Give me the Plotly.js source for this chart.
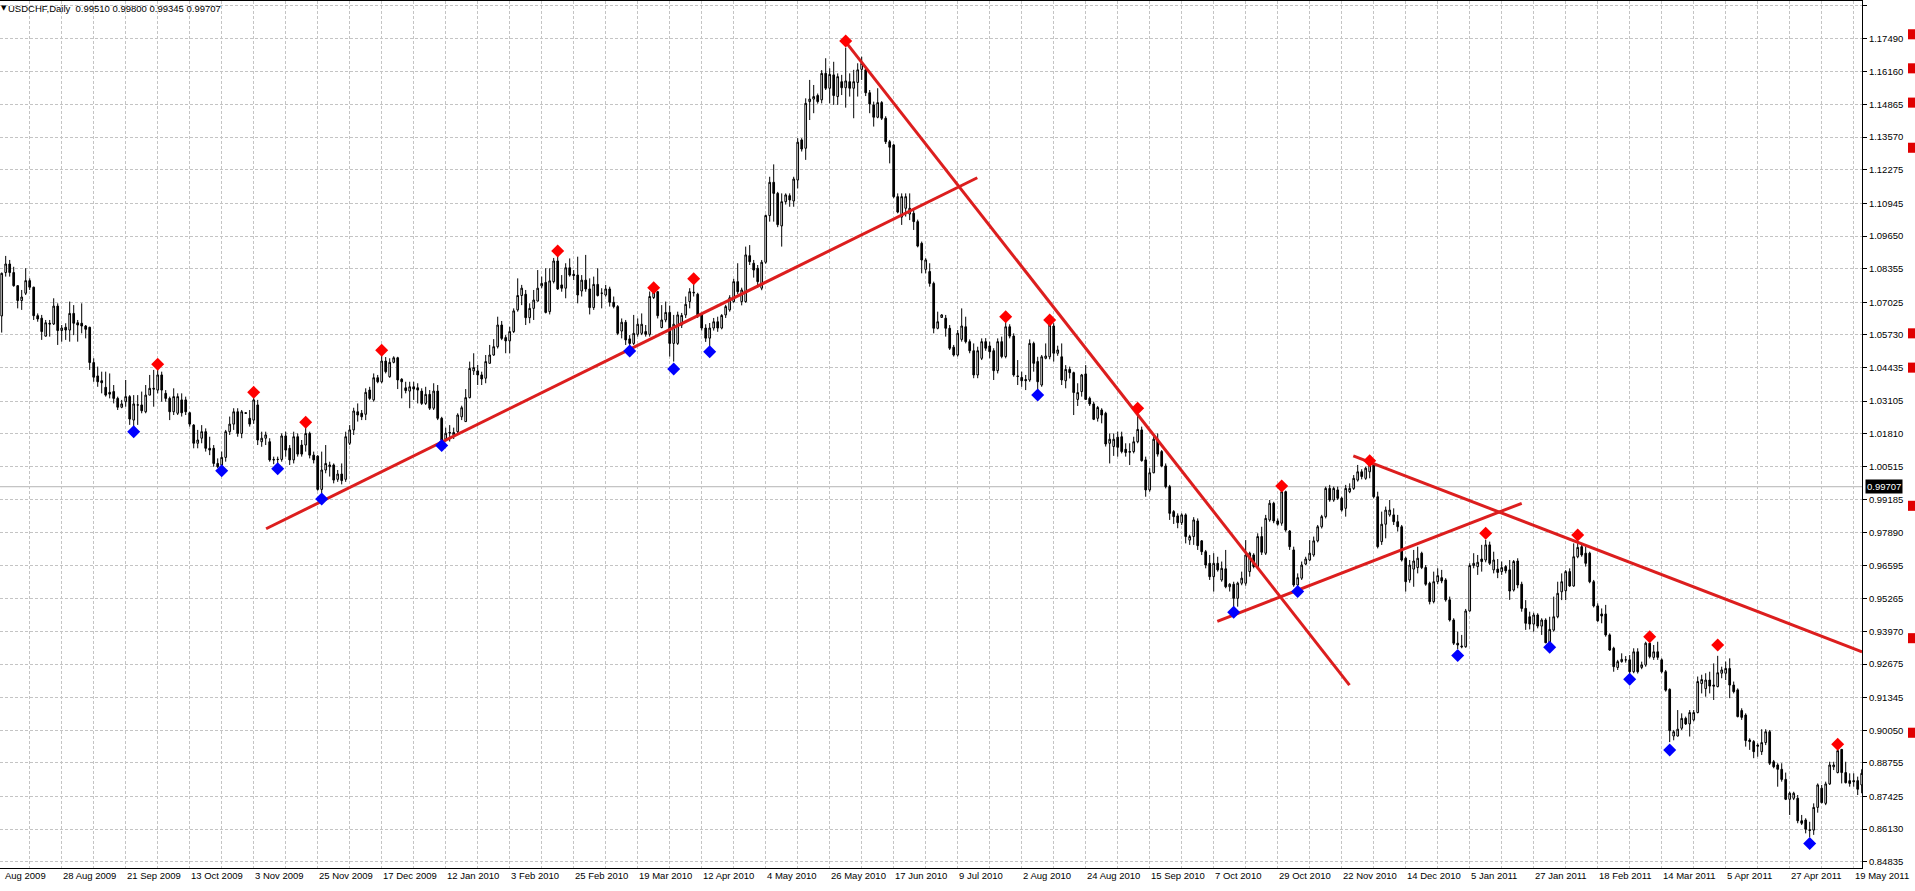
<!DOCTYPE html>
<html><head><meta charset="utf-8">
<script src="https://cdn.plot.ly/plotly-3.0.1.min.js"></script>
<style>html,body{margin:0;padding:0;background:#fff;overflow:hidden}#chart{width:1915px;height:891px}</style>
</head><body><div id="chart"></div>
<script>
// ---------------- data ----------------
const symbolTitle = 'USDCHF,Daily';
const lastQuote = ['0.99510', '0.99800', '0.99345', '0.99707'];
const currentPrice = 0.99707;

const openPrices = [
1.0648,1.0820,1.0854,1.0820,1.0768,1.0709,1.0738,1.0788,1.0762,1.0649,
1.0639,1.0568,1.0619,1.0616,1.0687,1.0590,1.0603,1.0592,1.0658,1.0621,
1.0619,1.0608,1.0603,1.0463,1.0410,1.0391,1.0365,1.0345,1.0348,1.0321,
1.0286,1.0308,1.0328,1.0235,1.0295,1.0295,1.0268,1.0334,1.0361,1.0354,
1.0414,1.0341,1.0321,1.0268,1.0262,1.0315,1.0315,1.0264,1.0215,1.0143,
1.0163,1.0189,1.0123,1.0123,1.0063,1.0057,1.0087,1.0189,1.0219,1.0268,
1.0182,1.0264,1.0242,1.0235,1.0295,1.0149,1.0163,1.0149,1.0079,1.0079,
1.0079,1.0172,1.0123,1.0077,1.0169,1.0136,1.0136,1.0182,1.0096,1.0092,
0.9960,1.0037,1.0050,1.0057,1.0000,1.0021,1.0000,1.0143,1.0196,1.0268,
1.0262,1.0258,1.0354,1.0315,1.0403,1.0387,1.0469,1.0407,1.0464,1.0482,
1.0397,1.0363,1.0350,1.0367,1.0363,1.0350,1.0301,1.0337,1.0282,1.0350,
1.0242,1.0160,1.0186,1.0176,1.0189,1.0248,1.0229,1.0324,1.0430,1.0430,
1.0414,1.0401,1.0460,1.0493,1.0526,1.0612,1.0562,1.0549,1.0586,1.0672,
1.0729,1.0734,1.0641,1.0678,1.0707,1.0767,1.0781,1.0665,1.0784,1.0866,
1.0771,1.0758,1.0839,1.0813,1.0810,1.0747,1.0790,1.0755,1.0681,1.0773,
1.0738,1.0731,1.0755,1.0702,1.0685,1.0588,1.0623,1.0557,1.0539,1.0575,
1.0579,1.0586,1.0575,1.0721,1.0744,1.0602,1.0632,1.0662,1.0539,1.0539,
1.0612,1.0652,1.0705,1.0742,1.0734,1.0652,1.0600,1.0560,1.0600,1.0625,
1.0600,1.0652,1.0672,1.0705,1.0784,1.0705,1.0705,1.0887,1.0857,1.0837,
1.0758,1.0861,1.1046,1.1178,1.1134,1.1005,1.1101,1.1125,1.1104,1.1187,
1.1346,1.1313,1.1498,1.1508,1.1522,1.1505,1.1610,1.1551,1.1604,1.1518,
1.1577,1.1553,1.1577,1.1551,1.1574,1.1626,1.1624,1.1533,1.1485,1.1436,
1.1494,1.1432,1.1339,1.1326,1.1121,1.1040,1.1075,1.1052,1.1055,1.1022,
1.0936,1.0833,1.0824,1.0777,1.0599,1.0642,1.0639,1.0599,1.0524,1.0493,
1.0555,1.0605,1.0546,1.0510,1.0414,1.0480,1.0546,1.0529,1.0510,1.0431,
1.0546,1.0487,1.0605,1.0568,1.0410,1.0404,1.0396,1.0394,1.0539,1.0467,
1.0374,1.0480,1.0486,1.0608,1.0500,1.0486,1.0391,1.0436,1.0423,1.0317,
1.0348,1.0418,1.0321,1.0299,1.0242,1.0275,1.0262,1.0143,1.0130,1.0167,
1.0169,1.0119,1.0110,1.0110,1.0149,1.0196,1.0077,0.9958,1.0026,1.0159,
1.0110,1.0053,0.9971,0.9872,0.9855,0.9828,0.9859,0.9759,0.9773,0.9835,
0.9756,0.9713,0.9667,0.9614,0.9667,0.9601,0.9645,0.9574,0.9584,0.9528,
0.9588,0.9588,0.9634,0.9700,0.9654,0.9773,0.9707,0.9839,0.9905,0.9835,
0.9826,0.9951,0.9795,0.9720,0.9581,0.9608,0.9664,0.9680,0.9700,0.9756,
0.9812,0.9852,0.9964,0.9918,0.9958,0.9925,0.9885,0.9951,0.9964,0.9997,
1.0030,1.0004,1.0030,1.0060,0.9931,0.9753,0.9822,0.9859,0.9859,0.9832,
0.9812,0.9687,0.9601,0.9644,0.9650,0.9707,0.9650,0.9588,0.9515,0.9594,
0.9610,0.9601,0.9522,0.9442,0.9350,0.9339,0.9336,0.9478,0.9658,0.9654,
0.9684,0.9680,0.9740,0.9641,0.9644,0.9634,0.9654,0.9641,0.9561,0.9676,
0.9584,0.9488,0.9455,0.9426,0.9462,0.9418,0.9442,0.9352,0.9402,0.9455,
0.9554,0.9558,0.9634,0.9577,0.9693,0.9733,0.9707,0.9707,0.9594,0.9498,
0.9466,0.9466,0.9383,0.9330,0.9254,0.9277,0.9284,0.9284,0.9237,0.9316,
0.9254,0.9264,0.9350,0.9294,0.9316,0.9284,0.9237,0.9167,0.8982,0.8982,
0.9013,0.9052,0.9030,0.9046,0.9075,0.9190,0.9170,0.9204,0.9184,0.9178,
0.9231,0.9231,0.9250,0.9184,0.9165,0.9083,0.9065,0.8966,0.8960,0.8946,
0.8920,0.8956,0.8999,0.8880,0.8867,0.8850,0.8810,0.8731,0.8735,0.8735,
0.8646,0.8649,0.8610,0.8609,0.8699,0.8775,0.8715,0.8792,0.8860,0.8837,
0.8929,0.8837,0.8805,0.8805,0.8805,0.8788];

const highPrices = [
1.0820,1.0886,1.0870,1.0843,1.0770,1.0751,1.0837,1.0797,1.0764,1.0658,
1.0652,1.0632,1.0632,1.0718,1.0698,1.0612,1.0619,1.0705,1.0691,1.0632,
1.0698,1.0612,1.0605,1.0480,1.0447,1.0427,1.0427,1.0420,1.0374,1.0328,
1.0315,1.0394,1.0334,1.0334,1.0334,1.0348,1.0374,1.0414,1.0434,1.0440,
1.0427,1.0354,1.0328,1.0361,1.0341,1.0341,1.0328,1.0268,1.0219,1.0196,
1.0215,1.0202,1.0169,1.0136,1.0083,1.0110,1.0196,1.0249,1.0282,1.0282,
1.0275,1.0266,1.0275,1.0325,1.0315,1.0189,1.0189,1.0163,1.0090,1.0090,
1.0182,1.0189,1.0136,1.0189,1.0182,1.0156,1.0210,1.0189,1.0110,1.0096,
1.0110,1.0136,1.0070,1.0063,1.0037,1.0063,1.0189,1.0215,1.0284,1.0301,
1.0275,1.0361,1.0367,1.0420,1.0414,1.0490,1.0485,1.0480,1.0488,1.0486,
1.0401,1.0387,1.0387,1.0387,1.0381,1.0361,1.0367,1.0354,1.0381,1.0374,
1.0248,1.0205,1.0215,1.0205,1.0262,1.0292,1.0358,1.0467,1.0500,1.0454,
1.0427,1.0493,1.0533,1.0556,1.0645,1.0628,1.0572,1.0605,1.0678,1.0797,
1.0771,1.0751,1.0698,1.0751,1.0830,1.0804,1.0837,1.0837,1.0878,1.0888,
1.0810,1.0857,1.0876,1.0830,1.0883,1.0810,1.0890,1.0797,1.0804,1.0837,
1.0758,1.0771,1.0764,1.0725,1.0691,1.0638,1.0632,1.0572,1.0652,1.0638,
1.0658,1.0612,1.0745,1.0748,1.0747,1.0691,1.0705,1.0689,1.0652,1.0665,
1.0660,1.0725,1.0758,1.0775,1.0740,1.0655,1.0615,1.0620,1.0640,1.0645,
1.0655,1.0692,1.0730,1.0795,1.0857,1.0760,1.0923,1.0929,1.0870,1.0850,
1.0870,1.1050,1.1200,1.1249,1.1140,1.1134,1.1134,1.1134,1.1200,1.1353,
1.1353,1.1511,1.1584,1.1564,1.1530,1.1623,1.1670,1.1630,1.1656,1.1610,
1.1604,1.1712,1.1610,1.1624,1.1650,1.1676,1.1635,1.1544,1.1498,1.1551,
1.1500,1.1440,1.1346,1.1330,1.1134,1.1134,1.1134,1.1134,1.1068,1.1030,
1.0943,1.0877,1.0857,1.0784,1.0665,1.0655,1.0652,1.0612,1.0533,1.0592,
1.0678,1.0645,1.0555,1.0539,1.0526,1.0559,1.0560,1.0546,1.0520,1.0559,
1.0566,1.0625,1.0615,1.0579,1.0473,1.0427,1.0414,1.0555,1.0546,1.0486,
1.0493,1.0539,1.0620,1.0619,1.0530,1.0539,1.0453,1.0447,1.0427,1.0381,
1.0418,1.0453,1.0328,1.0308,1.0291,1.0282,1.0268,1.0182,1.0182,1.0189,
1.0189,1.0143,1.0143,1.0169,1.0255,1.0209,1.0090,1.0044,1.0182,1.0182,
1.0116,1.0063,0.9978,0.9878,0.9865,0.9865,0.9865,0.9780,0.9850,0.9845,
0.9759,0.9720,0.9700,0.9707,0.9693,0.9674,0.9720,0.9588,0.9594,0.9594,
0.9634,0.9759,0.9713,0.9707,0.9786,0.9812,0.9859,0.9918,0.9911,0.9845,
0.9958,0.9955,0.9799,0.9733,0.9627,0.9674,0.9693,0.9759,0.9773,0.9819,
0.9859,0.9971,0.9978,0.9971,0.9971,0.9931,0.9978,0.9984,1.0017,1.0057,
1.0040,1.0050,1.0068,1.0064,0.9951,0.9872,0.9892,0.9918,0.9885,0.9859,
0.9819,0.9693,0.9680,0.9720,0.9733,0.9713,0.9660,0.9594,0.9634,0.9647,
0.9641,0.9608,0.9535,0.9449,0.9396,0.9383,0.9486,0.9667,0.9707,0.9700,
0.9740,0.9760,0.9753,0.9713,0.9684,0.9674,0.9660,0.9680,0.9680,0.9687,
0.9594,0.9521,0.9475,0.9471,0.9469,0.9449,0.9449,0.9455,0.9535,0.9594,
0.9627,0.9640,0.9647,0.9746,0.9753,0.9745,0.9733,0.9713,0.9601,0.9508,
0.9488,0.9502,0.9389,0.9336,0.9284,0.9310,0.9299,0.9303,0.9330,0.9330,
0.9277,0.9356,0.9363,0.9343,0.9356,0.9290,0.9244,0.9171,0.9006,0.9085,
0.9072,0.9059,0.9085,0.9085,0.9218,0.9225,0.9231,0.9237,0.9270,0.9300,
0.9257,0.9277,0.9290,0.9198,0.9171,0.9092,0.9072,0.8973,0.8966,0.8953,
0.9009,0.9009,0.9006,0.8887,0.8874,0.8874,0.8837,0.8761,0.8761,0.8748,
0.8669,0.8656,0.8642,0.8715,0.8794,0.8788,0.8801,0.8880,0.8880,0.8933,
0.8930,0.8880,0.8834,0.8834,0.8821,0.8850];

const lowPrices = [
1.0582,1.0804,1.0804,1.0764,1.0678,1.0672,1.0731,1.0751,1.0632,1.0625,
1.0553,1.0566,1.0566,1.0612,1.0533,1.0546,1.0553,1.0546,1.0572,1.0546,
1.0579,1.0559,1.0434,1.0387,1.0367,1.0341,1.0328,1.0321,1.0301,1.0275,
1.0282,1.0288,1.0216,1.0205,1.0216,1.0262,1.0262,1.0334,1.0288,1.0341,
1.0308,1.0308,1.0235,1.0255,1.0255,1.0249,1.0255,1.0209,1.0123,1.0123,
1.0143,1.0110,1.0096,1.0050,1.0045,1.0040,1.0070,1.0176,1.0196,1.0169,
1.0163,1.0260,1.0209,1.0220,1.0136,1.0129,1.0136,1.0070,1.0060,1.0050,
1.0070,1.0090,1.0057,1.0063,1.0090,1.0090,1.0110,1.0083,1.0063,0.9955,
0.9945,1.0024,1.0011,0.9984,0.9990,0.9980,0.9990,1.0136,1.0176,1.0229,
1.0235,1.0235,1.0315,1.0308,1.0381,1.0381,1.0420,1.0403,1.0460,1.0358,
1.0321,1.0341,1.0282,1.0315,1.0301,1.0295,1.0295,1.0275,1.0275,1.0235,
1.0145,1.0150,1.0150,1.0160,1.0183,1.0235,1.0229,1.0321,1.0414,1.0374,
1.0374,1.0381,1.0460,1.0490,1.0519,1.0552,1.0500,1.0500,1.0580,1.0665,
1.0691,1.0612,1.0619,1.0632,1.0705,1.0758,1.0658,1.0654,1.0777,1.0751,
1.0744,1.0718,1.0804,1.0790,1.0698,1.0725,1.0744,1.0654,1.0672,1.0725,
1.0678,1.0725,1.0685,1.0678,1.0572,1.0559,1.0533,1.0520,1.0533,1.0566,
1.0572,1.0566,1.0566,1.0715,1.0638,1.0599,1.0623,1.0487,1.0467,1.0533,
1.0600,1.0640,1.0678,1.0725,1.0640,1.0590,1.0545,1.0525,1.0590,1.0585,
1.0595,1.0640,1.0665,1.0700,1.0735,1.0690,1.0700,1.0850,1.0800,1.0760,
1.0750,1.0855,1.1022,1.1022,1.1000,1.0923,1.1090,1.1081,1.1081,1.1154,
1.1300,1.1267,1.1425,1.1452,1.1490,1.1491,1.1544,1.1491,1.1485,1.1485,
1.1524,1.1474,1.1518,1.1432,1.1518,1.1584,1.1520,1.1452,1.1399,1.1432,
1.1425,1.1330,1.1253,1.1115,1.1055,1.1009,1.1042,1.1028,1.0989,1.0920,
1.0817,1.0817,1.0764,1.0579,1.0595,1.0640,1.0566,1.0513,1.0487,1.0487,
1.0546,1.0539,1.0500,1.0401,1.0401,1.0473,1.0510,1.0480,1.0394,1.0420,
1.0480,1.0480,1.0559,1.0407,1.0374,1.0367,1.0354,1.0387,1.0427,1.0354,
1.0367,1.0476,1.0476,1.0467,1.0490,1.0374,1.0361,1.0400,1.0255,1.0291,
1.0328,1.0315,1.0291,1.0235,1.0229,1.0222,1.0130,1.0063,1.0093,1.0090,
1.0103,1.0090,1.0057,1.0103,1.0143,1.0070,0.9931,0.9951,1.0024,1.0090,
1.0048,0.9964,0.9839,0.9823,0.9806,0.9819,0.9746,0.9740,0.9740,0.9720,
0.9700,0.9647,0.9601,0.9555,0.9634,0.9594,0.9568,0.9555,0.9488,0.9495,
0.9580,0.9578,0.9614,0.9647,0.9647,0.9700,0.9700,0.9832,0.9826,0.9816,
0.9816,0.9792,0.9720,0.9574,0.9568,0.9601,0.9660,0.9676,0.9693,0.9750,
0.9805,0.9845,0.9911,0.9911,0.9918,0.9872,0.9852,0.9945,0.9958,0.9991,
1.0000,0.9998,1.0004,0.9925,0.9726,0.9740,0.9766,0.9852,0.9819,0.9793,
0.9674,0.9555,0.9590,0.9574,0.9627,0.9644,0.9578,0.9504,0.9508,0.9584,
0.9588,0.9515,0.9436,0.9343,0.9327,0.9330,0.9332,0.9475,0.9647,0.9621,
0.9634,0.9671,0.9660,0.9627,0.9608,0.9621,0.9627,0.9522,0.9555,0.9568,
0.9475,0.9403,0.9405,0.9396,0.9409,0.9383,0.9350,0.9345,0.9396,0.9449,
0.9521,0.9521,0.9574,0.9574,0.9687,0.9693,0.9654,0.9588,0.9492,0.9435,
0.9429,0.9376,0.9320,0.9237,0.9244,0.9273,0.9273,0.9222,0.9231,0.9230,
0.9247,0.9257,0.9290,0.9284,0.9284,0.9231,0.9158,0.8958,0.8965,0.8980,
0.9006,0.9026,0.8980,0.9040,0.9072,0.9151,0.9138,0.9151,0.9125,0.9175,
0.9211,0.9204,0.9132,0.9151,0.9056,0.9046,0.8940,0.8927,0.8894,0.8900,
0.8907,0.8946,0.8867,0.8854,0.8781,0.8801,0.8728,0.8669,0.8728,0.8636,
0.8629,0.8596,0.8580,0.8590,0.8678,0.8715,0.8708,0.8788,0.8847,0.8834,
0.8794,0.8794,0.8781,0.8781,0.8748,0.8755];

const closePrices = [
1.0817,1.0854,1.0820,1.0768,1.0709,1.0723,1.0788,1.0762,1.0649,1.0636,
1.0586,1.0621,1.0616,1.0687,1.0590,1.0600,1.0592,1.0658,1.0619,1.0612,
1.0608,1.0595,1.0463,1.0405,1.0387,1.0383,1.0334,1.0338,1.0321,1.0286,
1.0299,1.0328,1.0239,1.0299,1.0295,1.0272,1.0334,1.0361,1.0358,1.0414,
1.0354,1.0321,1.0268,1.0328,1.0328,1.0264,1.0268,1.0219,1.0143,1.0156,
1.0189,1.0123,1.0116,1.0063,1.0050,1.0087,1.0189,1.0219,1.0268,1.0182,
1.0268,1.0262,1.0219,1.0315,1.0156,1.0163,1.0176,1.0077,1.0077,1.0079,
1.0172,1.0116,1.0077,1.0169,1.0100,1.0100,1.0182,1.0096,1.0077,0.9960,
1.0037,1.0063,1.0057,0.9997,1.0021,0.9995,1.0169,1.0196,1.0271,1.0255,
1.0248,1.0345,1.0321,1.0403,1.0387,1.0469,1.0427,1.0464,1.0482,1.0394,
1.0387,1.0352,1.0367,1.0358,1.0354,1.0301,1.0337,1.0282,1.0350,1.0242,
1.0156,1.0183,1.0184,1.0186,1.0255,1.0284,1.0324,1.0440,1.0443,1.0414,
1.0398,1.0467,1.0493,1.0526,1.0612,1.0559,1.0549,1.0586,1.0668,1.0729,
1.0758,1.0641,1.0678,1.0711,1.0758,1.0777,1.0662,1.0787,1.0866,1.0755,
1.0758,1.0839,1.0810,1.0808,1.0731,1.0790,1.0755,1.0681,1.0773,1.0729,
1.0738,1.0755,1.0702,1.0685,1.0579,1.0623,1.0553,1.0539,1.0579,1.0615,
1.0615,1.0575,1.0725,1.0742,1.0649,1.0632,1.0662,1.0539,1.0615,1.0652,
1.0650,1.0694,1.0744,1.0740,1.0652,1.0600,1.0560,1.0600,1.0625,1.0600,
1.0650,1.0685,1.0720,1.0784,1.0744,1.0751,1.0890,1.0863,1.0830,1.0784,
1.0861,1.1046,1.1178,1.1134,1.1010,1.1101,1.1128,1.1108,1.1191,1.1337,
1.1310,1.1491,1.1508,1.1518,1.1498,1.1610,1.1551,1.1606,1.1522,1.1597,
1.1553,1.1580,1.1551,1.1577,1.1624,1.1650,1.1533,1.1489,1.1436,1.1494,
1.1432,1.1339,1.1317,1.1121,1.1060,1.1121,1.1121,1.1075,1.1022,1.0925,
1.0870,1.0870,1.0777,1.0599,1.0625,1.0652,1.0599,1.0520,1.0493,1.0579,
1.0608,1.0546,1.0510,1.0414,1.0510,1.0546,1.0520,1.0506,1.0431,1.0546,
1.0487,1.0605,1.0568,1.0414,1.0408,1.0391,1.0391,1.0539,1.0460,1.0387,
1.0486,1.0489,1.0612,1.0500,1.0513,1.0394,1.0436,1.0423,1.0344,1.0344,
1.0414,1.0317,1.0299,1.0238,1.0285,1.0255,1.0140,1.0159,1.0159,1.0127,
1.0110,1.0106,1.0108,1.0149,1.0198,1.0074,0.9958,1.0026,1.0159,1.0100,
1.0053,0.9971,0.9865,0.9852,0.9828,0.9859,0.9773,0.9773,0.9839,0.9737,
0.9713,0.9660,0.9614,0.9667,0.9641,0.9647,0.9574,0.9584,0.9528,0.9588,
0.9608,0.9700,0.9707,0.9654,0.9773,0.9711,0.9845,0.9905,0.9835,0.9822,
0.9951,0.9799,0.9733,0.9581,0.9610,0.9660,0.9684,0.9707,0.9756,0.9812,
0.9852,0.9964,0.9918,0.9964,0.9925,0.9878,0.9964,0.9964,1.0004,1.0030,
1.0011,1.0044,1.0060,0.9931,0.9733,0.9822,0.9878,0.9878,0.9832,0.9812,
0.9680,0.9594,0.9660,0.9676,0.9687,0.9650,0.9584,0.9515,0.9594,0.9618,
0.9597,0.9522,0.9442,0.9350,0.9343,0.9336,0.9478,0.9658,0.9667,0.9671,
0.9674,0.9740,0.9667,0.9680,0.9631,0.9650,0.9637,0.9557,0.9674,0.9581,
0.9488,0.9429,0.9426,0.9462,0.9418,0.9442,0.9352,0.9405,0.9455,0.9548,
0.9594,0.9634,0.9577,0.9693,0.9730,0.9700,0.9667,0.9594,0.9498,0.9439,
0.9458,0.9383,0.9323,0.9257,0.9277,0.9286,0.9284,0.9237,0.9316,0.9237,
0.9264,0.9350,0.9297,0.9316,0.9294,0.9237,0.9164,0.9003,0.8999,0.9009,
0.9052,0.9030,0.9075,0.9075,0.9198,0.9206,0.9204,0.9180,0.9180,0.9233,
0.9244,0.9250,0.9184,0.9158,0.9059,0.9056,0.8964,0.8960,0.8920,0.8942,
0.8956,0.8999,0.8874,0.8860,0.8850,0.8810,0.8731,0.8755,0.8755,0.8646,
0.8636,0.8612,0.8608,0.8699,0.8788,0.8718,0.8792,0.8867,0.8867,0.8924,
0.8837,0.8797,0.8794,0.8801,0.8771,0.8834];

// time scale labels (one every 16 bars; the first, partly hidden one shows only "Aug 2009")
const dateLabels = ['Aug 2009','28 Aug 2009','21 Sep 2009','13 Oct 2009','3 Nov 2009','25 Nov 2009',
  '17 Dec 2009','12 Jan 2010','3 Feb 2010','25 Feb 2010','19 Mar 2010','12 Apr 2010','4 May 2010',
  '26 May 2010','17 Jun 2010','9 Jul 2010','2 Aug 2010','24 Aug 2010','15 Sep 2010','7 Oct 2010',
  '29 Oct 2010','22 Nov 2010','14 Dec 2010','5 Jan 2011','27 Jan 2011','18 Feb 2011','14 Mar 2011',
  '5 Apr 2011','27 Apr 2011','19 May 2011'];
const firstLabelBar = -1;
const barsPerLabel = 16;
const barsPerGrid = 8;

// price scale labels
const priceTicks = [1.18785,1.17490,1.16160,1.14865,1.13570,1.12275,1.10945,1.09650,1.08355,1.07025,
  1.05730,1.04435,1.03105,1.01810,1.00515,0.99185,0.97890,0.96595,0.95265,0.93970,0.92675,0.91345,
  0.90050,0.88755,0.87425,0.86130,0.84835];

// fractal marks
const upFractalBars   = [39, 63, 76, 95, 139, 163, 173, 211, 251, 262, 284, 320, 342, 371, 394, 412, 429, 459];
const upFractalPrices = [1.0456,1.0345,1.0226,1.0512,1.0906,1.0760,1.0795,1.1738,1.0645,1.0632,1.0282,0.9974,
  1.0074,0.9786,0.9779,0.9376,0.9343,0.8949];
const downFractalBars   = [33, 55, 69, 80, 110, 157, 168, 177, 259, 308, 324, 364, 387, 407, 417, 452];
const downFractalPrices = [1.0189,1.0034,1.0042,0.9922,1.0134,1.0509,1.0438,1.0506,1.0334,0.9473,0.9555,
  0.9301,0.9334,0.9207,0.8927,0.8556];

// hand-drawn trend lines (bar index, price)
const trendStartBar   = [66.1, 210.5, 303.9, 337.9];
const trendStartPrice = [0.9804, 1.1745, 0.9437, 1.0093];
const trendEndBar     = [243.9, 336.95, 380.0, 465.1];
const trendEndPrice   = [1.1196, 0.9184, 0.9905, 0.9316];

// small red level marks at the right edge of the price scale
const sideMarkPrices = [1.1765, 1.1630, 1.1494, 1.1315, 1.0579, 1.0443, 0.9895, 0.9370, 0.8995];

// ---------------- drawing ----------------
const X_RANGE = [-0.425, 465.075];
const Y_RANGE = [0.84586, 1.18970];
const FONT = 'Liberation Sans, Arial, sans-serif';
const GRID = '#c4c4c4';

const barIndex = openPrices.map((_, i) => i);
const gridBars = [];
for (let b = firstLabelBar + barsPerGrid; b <= X_RANGE[1]; b += barsPerGrid) gridBars.push(b);

const traces = [];
traces.push({
  type: 'candlestick', x: barIndex,
  open: openPrices, high: highPrices, low: lowPrices, close: closePrices,
  increasing: {line: {color: '#000000', width: 1}, fillcolor: '#ffffff'},
  decreasing: {line: {color: '#000000', width: 1}, fillcolor: '#000000'},
  whiskerwidth: 0, hoverinfo: 'skip', showlegend: false
});
for (let k = 0; k < trendStartBar.length; k++) {
  traces.push({
    type: 'scatter', mode: 'lines',
    x: [trendStartBar[k], trendEndBar[k]], y: [trendStartPrice[k], trendEndPrice[k]],
    line: {color: '#dc1e1e', width: 3}, hoverinfo: 'skip', showlegend: false
  });
}
traces.push({
  type: 'scatter', mode: 'markers', x: upFractalBars, y: upFractalPrices,
  marker: {symbol: 'diamond', size: 10, color: '#ff0000', line: {width: 0}},
  hoverinfo: 'skip', showlegend: false
});
traces.push({
  type: 'scatter', mode: 'markers', x: downFractalBars, y: downFractalPrices,
  marker: {symbol: 'diamond', size: 10, color: '#0000ff', line: {width: 0}},
  hoverinfo: 'skip', showlegend: false
});

const xFrac = b => (b - X_RANGE[0]) / (X_RANGE[1] - X_RANGE[0]);
const yFrac = p => (p - Y_RANGE[0]) / (Y_RANGE[1] - Y_RANGE[0]);

const annotations = [];
annotations.push({
  xref: 'paper', yref: 'paper', x: 0, y: 1, xanchor: 'left', yanchor: 'top',
  xshift: -1, yshift: -1, showarrow: false, text: '\u25BC',
  font: {family: 'DejaVu Sans, sans-serif', size: 7, color: '#000'}
});
annotations.push({
  xref: 'paper', yref: 'paper', x: 0, y: 1, xanchor: 'left', yanchor: 'top',
  xshift: 6, yshift: 0, showarrow: false,
  text: symbolTitle + '&nbsp;&nbsp;' + lastQuote.join(' '),
  font: {family: FONT, size: 9.5, color: '#000'}
});
dateLabels.forEach((lab, k) => {
  annotations.push({
    xref: 'paper', yref: 'paper', x: xFrac(firstLabelBar + k * barsPerLabel), y: 0,
    xanchor: 'left', yanchor: 'top', xshift: k === 0 ? 5 : -1, yshift: 0, showarrow: false, text: lab,
    font: {family: FONT, size: 9.5, color: '#000'}
  });
});
annotations.push({
  xref: 'paper', yref: 'y', x: 1, y: currentPrice, xanchor: 'left', yanchor: 'middle',
  xshift: 3, showarrow: false, text: currentPrice.toFixed(5), bgcolor: '#000000',
  borderpad: 1, font: {family: FONT, size: 9.5, color: '#ffffff'}
});

const shapes = [];
shapes.push({
  type: 'line', xref: 'paper', yref: 'y', x0: 0, x1: 1, y0: currentPrice, y1: currentPrice,
  line: {color: '#b4b4b4', width: 1}, layer: 'below'
});
sideMarkPrices.forEach(p => {
  shapes.push({
    type: 'rect', xref: 'paper', yref: 'paper', x0: 1908 / 1862, x1: 1915 / 1862,
    y0: yFrac(p) - 0.0058, y1: yFrac(p) + 0.0058,
    fillcolor: '#e00000', line: {width: 0}
  });
});

const layout = {
  width: 1915, height: 891,
  margin: {l: 0, r: 53, t: 1, b: 23, pad: 0},
  paper_bgcolor: '#ffffff', plot_bgcolor: '#ffffff',
  showlegend: false, hovermode: false, dragmode: false,
  boxgap: 0.4,
  xaxis: {
    type: 'linear', range: X_RANGE, autorange: false, fixedrange: true,
    tickmode: 'array', tickvals: gridBars, showticklabels: false, ticks: '',
    showgrid: true, gridcolor: GRID, gridwidth: 1, griddash: '3px,2px',
    zeroline: false, showline: true, linecolor: '#000', linewidth: 1, mirror: true,
    rangeslider: {visible: false}, automargin: false
  },
  yaxis: {
    side: 'right', range: Y_RANGE, autorange: false, fixedrange: true,
    tickmode: 'array', tickvals: priceTicks, ticktext: priceTicks.map(v => v.toFixed(5)),
    ticks: 'outside', ticklen: 4, tickwidth: 1, tickcolor: '#000',
    tickfont: {family: FONT, size: 9.5, color: '#000'},
    showgrid: true, gridcolor: GRID, gridwidth: 1, griddash: '3px,2px',
    zeroline: false, showline: true, linecolor: '#000', linewidth: 1, mirror: true,
    automargin: false
  },
  annotations: annotations,
  shapes: shapes
};

Plotly.newPlot('chart', traces, layout, {displayModeBar: false, staticPlot: true});
</script>
</body></html>
